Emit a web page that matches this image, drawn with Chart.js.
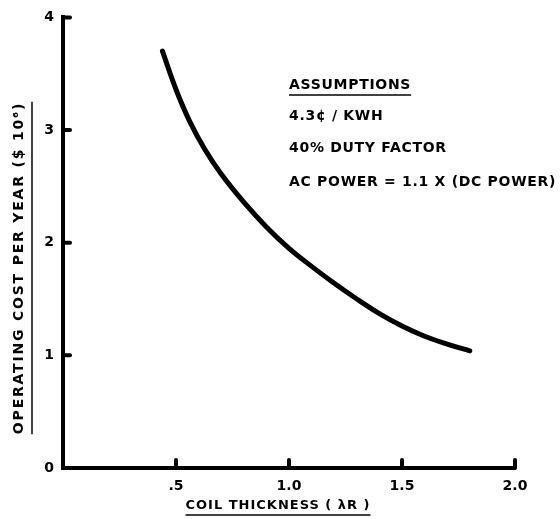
<!DOCTYPE html>
<html>
<head>
<meta charset="utf-8">
<script src="https://cdn.jsdelivr.net/npm/chart.js@4/dist/chart.umd.min.js"></script>
<style>
html,body{margin:0;padding:0;background:#fff;}
#wrap{width:560px;height:519px;position:relative;}
</style>
</head>
<body>
<div id="wrap"><canvas id="c" width="560" height="519"></canvas></div>
<script>
// Data
const coilThickness = [0.44, 0.50, 0.56, 0.63, 0.70, 0.80, 0.90, 1.00, 1.10, 1.20, 1.30, 1.40, 1.50, 1.60, 1.70, 1.80];
const operatingCost = [3.70, 3.36, 3.08, 2.82, 2.61, 2.36, 2.14, 1.95, 1.79, 1.64, 1.50, 1.37, 1.26, 1.17, 1.10, 1.04];
const xTickValues = [0.5, 1.0, 1.5, 2.0];
const xTickLabels = ['.5', '1.0', '1.5', '2.0'];
const yTickValues = [0, 1, 2, 3, 4];
const yTickLabels = ['0', '1', '2', '3', '4'];
const xTitle = 'COIL THICKNESS ( λR )';
const yTitle = 'OPERATING COST PER YEAR ($ 10⁶)';
const noteTitle = 'ASSUMPTIONS';
const noteLines = ['4.3¢ / KWH', '40% DUTY FACTOR', 'AC POWER = 1.1 X (DC POWER)'];

const points = coilThickness.map((x, i) => ({x, y: operatingCost[i]}));

const decor = {
  id: 'decor',
  afterDraw(chart) {
    const {ctx, scales: {x, y}} = chart;
    ctx.save();
    ctx.strokeStyle = '#000';
    ctx.fillStyle = '#000';
    ctx.lineCap = 'round';
    // inward tick stubs
    ctx.lineWidth = 4;
    const y0 = y.getPixelForValue(0);
    xTickValues.forEach(v => {
      const px = x.getPixelForValue(v);
      ctx.beginPath(); ctx.moveTo(px, y0); ctx.lineTo(px, y0 - 8); ctx.stroke();
    });
    const x0 = x.getPixelForValue(0);
    yTickValues.filter(v => v > 0).forEach(v => {
      const py = y.getPixelForValue(v);
      ctx.beginPath(); ctx.moveTo(x0, py); ctx.lineTo(x0 + 7, py); ctx.stroke();
    });
    ctx.lineWidth = 1.5; ctx.lineCap = 'butt';
    ctx.textBaseline = 'middle';
    // x title
    ctx.font = 'bold 13px "DejaVu Sans"';
    ctx.letterSpacing = '1px';
    ctx.textAlign = 'center';
    const xc = 278, yc = 506;
    ctx.fillText(xTitle, xc, yc);
    const xw = ctx.measureText(xTitle).width;
    ctx.beginPath(); ctx.moveTo(xc - xw / 2, 515); ctx.lineTo(xc + xw / 2, 515); ctx.stroke();
    // y title
    ctx.save();
    ctx.font = 'bold 14px "DejaVu Sans"';
    ctx.letterSpacing = '1.8px';
    ctx.translate(19, 268);
    ctx.rotate(-Math.PI / 2);
    ctx.fillText(yTitle, 0, 0);
    const yw = ctx.measureText(yTitle).width;
    ctx.beginPath(); ctx.moveTo(-yw / 2, 13); ctx.lineTo(yw / 2, 13); ctx.stroke();
    ctx.restore();
    // assumptions note
    ctx.font = 'bold 14px "DejaVu Sans"';
    ctx.letterSpacing = '0.7px';
    ctx.textAlign = 'left';
    const nx = 289;
    ctx.fillText(noteTitle, nx, 85);
    const nw = ctx.measureText(noteTitle).width;
    ctx.beginPath(); ctx.moveTo(nx, 95); ctx.lineTo(nx + nw, 95); ctx.stroke();
    const ny = [116, 148, 182];
    noteLines.forEach((t, i) => ctx.fillText(t, nx, ny[i]));
    ctx.restore();
  }
};

new Chart(document.getElementById('c'), {
  type: 'line',
  data: {
    datasets: [{
      data: points,
      borderColor: '#000',
      borderWidth: 5,
      borderCapStyle: 'round',
      borderJoinStyle: 'round',
      pointRadius: 0,
      tension: 0.4,
      fill: false
    }]
  },
  options: {
    responsive: false,
    animation: false,
    events: [],
    layout: {padding: {top: 15, right: 45, left: 0, bottom: 0}},
    plugins: {legend: {display: false}, tooltip: {enabled: false}},
    scales: {
      x: {
        type: 'linear', min: 0, max: 2,
        afterFit: s => { s.height = 51; },
        afterBuildTicks: s => { s.ticks = xTickValues.map(v => ({value: v})); },
        grid: {display: false, drawTicks: false},
        border: {display: true, color: '#000', width: 4},
        ticks: {
          color: '#000', padding: 10, font: {family: 'DejaVu Sans', size: 14, weight: 'bold'},
          maxRotation: 0,
          callback: v => xTickLabels[xTickValues.indexOf(v)]
        }
      },
      y: {
        type: 'linear', min: 0, max: 4,
        afterFit: s => { s.width = 63; },
        afterBuildTicks: s => { s.ticks = yTickValues.map(v => ({value: v})); },
        grid: {display: false, drawTicks: false},
        border: {display: true, color: '#000', width: 4},
        ticks: {
          color: '#000', padding: 9, font: {family: 'DejaVu Sans', size: 14, weight: 'bold'},
          callback: v => yTickLabels[yTickValues.indexOf(v)]
        }
      }
    }
  },
  plugins: [decor]
});
</script>
</body>
</html>
